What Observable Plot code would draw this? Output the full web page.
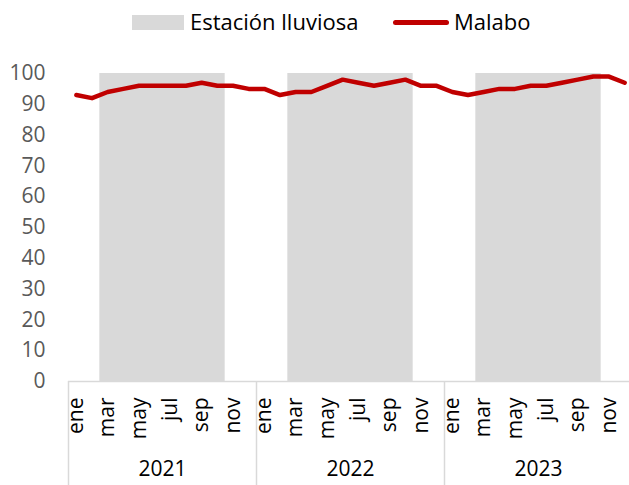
<!DOCTYPE html>
<html><head><meta charset="utf-8">
<script src="https://cdn.jsdelivr.net/npm/d3@7"></script>
<script src="https://cdn.jsdelivr.net/npm/@observablehq/plot@0.6"></script>
<style>
body{margin:0;background:#fff;font-family:"Open Sans",sans-serif;}
#legend{position:relative;height:45px;width:629px;font-size:22px;color:#000;}
#legend .sw{position:absolute;}
#legend .lb{position:absolute;top:6px;line-height:30px;white-space:nowrap;}
</style></head><body>
<div id="legend"></div>
<div id="chart"></div>
<script>
// ---- data ----
const years = [2021, 2022, 2023];
const months = ["ene","feb","mar","abr","may","jun","jul","ago","sep","oct","nov","dic"];
const labeledMonths = ["ene","mar","may","jul","sep","nov"];
const malabo = [
  93, 92, 94, 95, 96, 96, 96, 96, 97, 96, 96, 95,
  95, 93, 94, 94, 96, 98, 97, 96, 97, 98, 96, 96,
  94, 93, 94, 95, 95, 96, 96, 97, 98, 99, 99, 97
];
const rainyStart = "mar";
const rainyEnd = "oct";
const yTicks = [0, 10, 20, 30, 40, 50, 60, 70, 80, 90, 100];
const seriesName = "Malabo";
const bandName = "Estación lluviosa";

// ---- derived tables ----
const nMonths = years.length * months.length;
const yMax = yTicks[yTicks.length - 1];
const data = malabo.map((v, i) => ({pos: i + 0.5, value: v}));
const bands = years.map((y, k) => ({
  x1: k * 12 + months.indexOf(rainyStart),
  x2: k * 12 + months.indexOf(rainyEnd) + 1
}));
const monthTicks = [];
years.forEach((y, k) => months.forEach((m, j) => { if (labeledMonths.includes(m)) monthTicks.push(k * 12 + j + 0.5); }));
const yearBounds = years.map((y, k) => k * 12).concat([nMonths]);
const yearCenters = years.map((y, k) => k * 12 + 6);

const RED = "#c00000", GREY = "#d9d9d9";

// legend
const lg = document.getElementById("legend");
lg.innerHTML = `
  <div class="sw" style="left:132px;top:15px;width:52px;height:15px;background:${GREY}"></div>
  <div class="lb" style="left:190px">${bandName}</div>
  <div class="sw" style="left:393px;top:20px;width:56px;height:5px;border-radius:3px;background:${RED}"></div>
  <div class="lb" style="left:454px">${seriesName}</div>`;

const chart = Plot.plot({
  width: 629,
  height: 440,
  marginTop: 28,
  marginBottom: 104,
  marginLeft: 68,
  marginRight: 0,
  style: {fontFamily: "Open Sans, sans-serif", fontSize: "21px", background: "white", color: "#000"},
  x: {domain: [0, nMonths], range: [68, 632]},
  y: {domain: [0, yMax]},
  marks: [
    Plot.rect(bands, {x1: "x1", x2: "x2", y1: 0, y2: yMax, fill: GREY}),
    Plot.ruleY([0], {stroke: GREY, strokeWidth: 1.5}),
    Plot.axisX(yearBounds, {tickSize: 104, tickFormat: () => "", stroke: GREY, strokeWidth: 1.5, label: null}),
    Plot.axisX(monthTicks, {tickSize: 0, tickPadding: 16, tickRotate: -90, tickFormat: d => months[Math.floor(d) % 12], label: null, fill: "#000"}),
    Plot.axisX(yearCenters, {tickSize: 0, tickPadding: 80, tickFormat: d => String(years[Math.floor(d / 12)]), label: null, fill: "#000"}),
    Plot.axisY(yTicks, {tickSize: 0, tickPadding: 23, label: null, fill: "#595959"}),
    Plot.lineY(data, {x: "pos", y: "value", stroke: RED, strokeWidth: 4.5, strokeLinejoin: "round", strokeLinecap: "round"})
  ]
});
document.getElementById("chart").appendChild(chart);
</script>
</body></html>
